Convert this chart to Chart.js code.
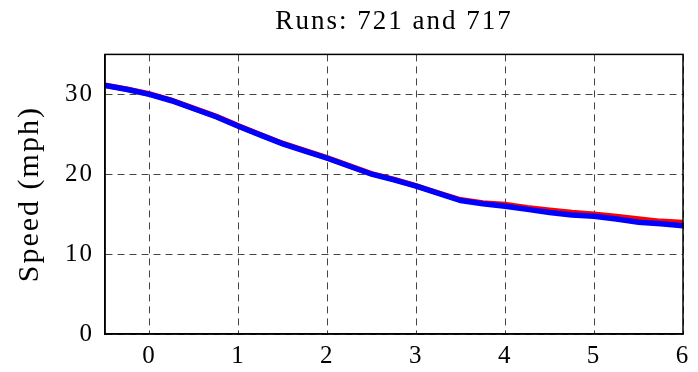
<!DOCTYPE html>
<html>
<head>
<meta charset="utf-8">
<script src="https://cdn.jsdelivr.net/npm/chart.js@4/dist/chart.umd.min.js"></script>
<style>
html,body{margin:0;padding:0;background:#fff;}
#wrap{width:698px;height:372px;}
</style>
</head>
<body>
<div id="wrap"><canvas id="c" width="698" height="372"></canvas></div>
<script>
const xValues = [-0.5,-0.25,0,0.25,0.5,0.75,1,1.25,1.5,1.75,2,2.25,2.5,2.75,3,3.25,3.5,3.75,4,4.25,4.5,4.75,5,5.25,5.5,5.75,6];
const run721 = [31.15,30.65,30.05,29.25,28.25,27.25,26.05,24.95,23.85,22.95,22.05,21.05,20.05,19.35,18.55,17.65,16.8,16.4,16.2,15.8,15.5,15.2,15.0,14.7,14.4,14.1,13.95];
const run717 = [31.1,30.6,30.0,29.2,28.2,27.2,26.0,24.9,23.8,22.9,22.0,21.0,20.0,19.3,18.5,17.6,16.7,16.3,16.0,15.6,15.2,14.9,14.75,14.4,14.0,13.8,13.55];
const xTicks = [0,1,2,3,4,5,6];
const yTicks = [0,10,20,30];
const titleText = 'Runs: 721 and 717';
const yTitle = 'Speed (mph)';

const toPts = (ys) => xValues.map((x,i)=>({x:x,y:ys[i]}));
const FONT = "'Liberation Serif', serif";
const SP = '2px';

const canvas = document.getElementById('c');
const spacingPlugin = {
  id:'spacing',
  beforeInit(chart){ chart.ctx.letterSpacing = SP; },
  beforeUpdate(chart){ chart.ctx.letterSpacing = SP; },
  beforeDraw(chart){ chart.ctx.letterSpacing = SP; }
};

const boxPlugin = {
  id:'box',
  afterDraw(chart){
    const a = chart.chartArea, ctx = chart.ctx;
    ctx.save();
    ctx.strokeStyle = '#000';
    ctx.lineWidth = 1.5;
    ctx.strokeRect(a.left, a.top, a.right-a.left, a.bottom-a.top);
    ctx.restore();
  }
};

new Chart(canvas, {
  type:'line',
  data:{
    datasets:[
      {label:'721', data:toPts(run721), borderColor:'#ff0000', borderWidth:5.5, pointRadius:0, tension:0, fill:false, order:2},
      {label:'717', data:toPts(run717), borderColor:'#0000ff', borderWidth:5.5, pointRadius:0, tension:0, fill:false, order:1}
    ]
  },
  options:{
    responsive:false,
    animation:false,
    layout:{padding:{left:0,right:15,top:0,bottom:0}},
    plugins:{
      legend:{display:false},
      tooltip:{enabled:false},
      title:{display:true, text:titleText, fullSize:false, color:'#000',
        font:{family:FONT,size:27,weight:'normal'}, padding:{top:6,bottom:16}}
    },
    scales:{
      x:{type:'linear', min:-0.5, max:6,
        afterBuildTicks(s){ s.ticks = xTicks.map(v=>({value:v})); },
        afterFit(s){ s.height = 38; },
        grid:{color:'#444', lineWidth:1, drawTicks:false},
        border:{display:true, color:'#000', width:1.5, dash:[7,5]},
        ticks:{color:'#000', padding:7, font:{family:FONT,size:25}, maxRotation:0}
      },
      y:{type:'linear', min:0, max:35,
        afterBuildTicks(s){ s.ticks = yTicks.map(v=>({value:v})); },
        afterFit(s){ s.width = 105; },
        grid:{color:'#444', lineWidth:1, drawTicks:false},
        border:{display:true, color:'#000', width:1.5, dash:[7,5]},
        title:{display:true, text:yTitle, color:'#000', font:{family:FONT,size:30}, padding:{top:12,bottom:0}},
        ticks:{color:'#000', padding:11, font:{family:FONT,size:25}}
      }
    }
  },
  plugins:[spacingPlugin, boxPlugin]
});
</script>
</body>
</html>
